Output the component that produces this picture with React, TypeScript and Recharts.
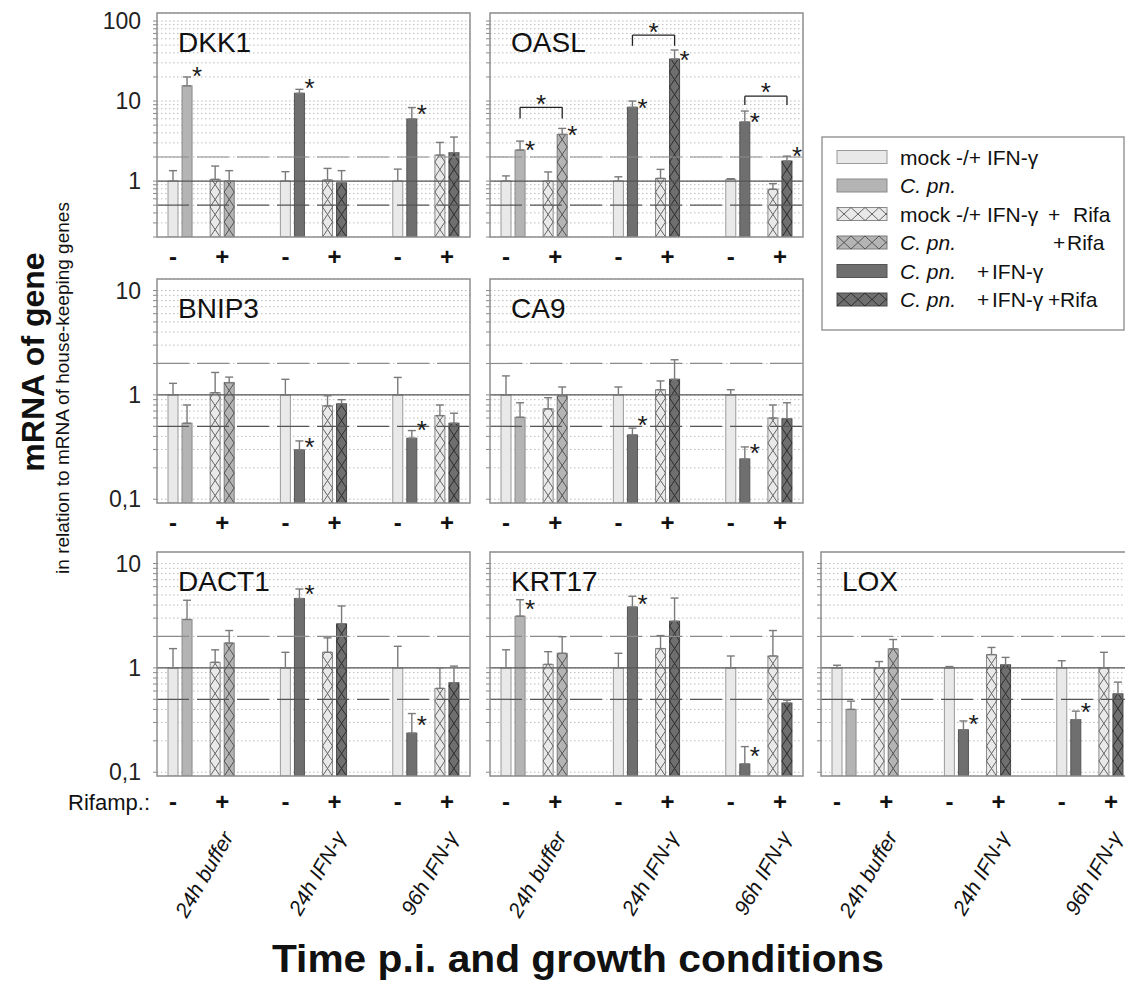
import React from 'react';
import { ComposedChart, Bar, XAxis, YAxis, CartesianGrid, ReferenceLine, ErrorBar, Scatter } from 'recharts';

const FONT = "'Liberation Sans', Arial, Helvetica, sans-serif";

// ---------- categories / labels ----------
const CONDITIONS = ['24h buffer', '24h IFN-γ', '96h IFN-γ'];
const RIFA_MARKS = ['-', '+'];
const BAR_KINDS = [
  ['mock', 'cpn', 'mockRifa', 'cpnRifa'],
  ['mock', 'ifn', 'mockRifa', 'ifnRifa'],
  ['mock', 'ifn', 'mockRifa', 'ifnRifa'],
];
const BAR_OFFSETS = [0, 1, 3, 4];
const LEGEND_KINDS = ['mock', 'cpn', 'mockRifa', 'cpnRifa', 'ifn', 'ifnRifa'];
const LEGEND_TEXTS = [
  [{ t: 'mock -/+ IFN-γ', x: 900 }],
  [{ t: 'C. pn.', x: 900, it: true }],
  [{ t: 'mock -/+ IFN-γ', x: 900 }, { t: '+', x: 1048 }, { t: 'Rifa', x: 1073 }],
  [{ t: 'C. pn.', x: 900, it: true }, { t: '+', x: 1053 }, { t: 'Rifa', x: 1067 }],
  [{ t: 'C. pn.', x: 900, it: true }, { t: '+', x: 977 }, { t: 'IFN-γ', x: 992 }],
  [{ t: 'C. pn.', x: 900, it: true }, { t: '+', x: 977 }, { t: 'IFN-γ', x: 992 }, { t: '+', x: 1048 }, { t: 'Rifa', x: 1060 }],
];

// ---------- tick labels ----------
const TICKS_HIGH = [0.2, 0.3, 0.4, 0.5, 0.6, 0.7, 0.8, 0.9, 1, 2, 3, 4, 5, 6, 7, 8, 9, 10, 20, 30, 40, 50, 60, 70, 80, 90, 100];
const TICKS_LOW = [0.1, 0.2, 0.3, 0.4, 0.5, 0.6, 0.7, 0.8, 0.9, 1, 2, 3, 4, 5, 6, 7, 8, 9, 10];
const MAJOR_TICKS = [0.1, 1, 10, 100];
const MAJOR_LABELS = ['0,1', '1', '10', '100'];

// ---------- data (bar value, error-bar top, star position) ----------
const DKK1_VALUES = [1.0, 15.5, 1.05, 1.0, 1.0, 12.5, 1.03, 0.95, 1.0, 5.96, 2.11, 2.26];
const DKK1_TOPS = [1.35, 20, 1.54, 1.35, 1.31, 14.0, 1.44, 1.35, 1.41, 8.3, 3.04, 3.55];
const DKK1_STARS = [null, 23, null, null, null, 16.5, null, null, null, 7.8, null, null];

const OASL_VALUES = [1.0, 2.44, 1.0, 3.83, 1.0, 8.35, 1.08, 33.5, 1.05, 5.47, 0.79, 1.78];
const OASL_TOPS = [1.16, 3.16, 1.3, 4.55, 1.13, 10, 1.4, 43.4, 1.07, 7.5, 0.93, 2.05];
const OASL_STARS = [null, 2.76, null, 4.25, null, 9.1, null, 37, null, 6.2, null, 2.3];
const OASL_BRACKETS = [
  { group: 0, y: 8.35, leg: 6.07, star: 10.3 },
  { group: 1, y: 66.8, leg: 49, star: 81 },
  { group: 2, y: 11.5, leg: 8.9, star: 14.5 },
];

const BNIP3_VALUES = [1.0, 0.535, 1.05, 1.31, 1.0, 0.297, 0.784, 0.82, 1.0, 0.384, 0.633, 0.535];
const BNIP3_TOPS = [1.29, 0.8, 1.64, 1.48, 1.41, 0.362, 0.98, 0.9, 1.47, 0.455, 0.8, 0.667];
const BNIP3_STARS = [null, null, null, null, null, 0.344, null, null, null, 0.5, null, null];

const CA9_VALUES = [1.0, 0.61, 0.734, 0.98, 1.0, 0.413, 1.12, 1.41, 1.0, 0.243, 0.6, 0.59];
const CA9_TOPS = [1.52, 0.84, 0.94, 1.19, 1.19, 0.48, 1.36, 2.17, 1.12, 0.317, 0.8, 0.84];
const CA9_STARS = [null, null, null, null, null, 0.567, null, null, null, 0.3, null, null];

const DACT1_VALUES = [1.0, 2.91, 1.13, 1.73, 1.0, 4.62, 1.41, 2.64, 1.0, 0.237, 0.636, 0.72];
const DACT1_TOPS = [1.53, 4.45, 1.49, 2.28, 1.41, 5.7, 1.94, 3.92, 1.61, 0.365, 1.0, 1.04];
const DACT1_STARS = [null, null, null, null, null, 5.6, null, null, null, 0.31, null, null];

const KRT17_VALUES = [1.0, 3.13, 1.08, 1.38, 1.0, 3.83, 1.53, 2.8, 1.0, 0.12, 1.3, 0.46];
const KRT17_TOPS = [1.49, 4.5, 1.43, 1.99, 1.38, 4.86, 2.04, 4.67, 1.3, 0.176, 2.28, 0.49];
const KRT17_STARS = [null, 4.0, null, null, null, 4.5, null, null, null, 0.157, null, null];

const LOX_VALUES = [1.0, 0.4, 1.0, 1.52, 1.0, 0.255, 1.34, 1.07, 1.0, 0.319, 1.0, 0.564];
const LOX_TOPS = [1.06, 0.48, 1.15, 1.87, 1.03, 0.31, 1.57, 1.26, 1.17, 0.385, 1.41, 0.73];
const LOX_STARS = [null, null, null, null, null, 0.32, null, null, null, 0.41, null, null];

const GENES = [
  { name: 'DKK1', row: 0, col: 0, values: DKK1_VALUES, tops: DKK1_TOPS, stars: DKK1_STARS, brackets: [] },
  { name: 'OASL', row: 0, col: 1, values: OASL_VALUES, tops: OASL_TOPS, stars: OASL_STARS, brackets: OASL_BRACKETS },
  { name: 'BNIP3', row: 1, col: 0, values: BNIP3_VALUES, tops: BNIP3_TOPS, stars: BNIP3_STARS, brackets: [] },
  { name: 'CA9', row: 1, col: 1, values: CA9_VALUES, tops: CA9_TOPS, stars: CA9_STARS, brackets: [] },
  { name: 'DACT1', row: 2, col: 0, values: DACT1_VALUES, tops: DACT1_TOPS, stars: DACT1_STARS, brackets: [] },
  { name: 'KRT17', row: 2, col: 1, values: KRT17_VALUES, tops: KRT17_TOPS, stars: KRT17_STARS, brackets: [] },
  { name: 'LOX', row: 2, col: 2, values: LOX_VALUES, tops: LOX_TOPS, stars: LOX_STARS, brackets: [] },
];

// ---------- layout ----------
const PLOT_W = 313;
const PLOT_H = 224;
const COL_X = [157, 490, 821];
const ROW_Y = [13, 279, 552];
const ROW_DOMAIN = [[0.2, 126], [0.092, 12.9], [0.092, 12.9]];
const ROW_TICKS = [TICKS_HIGH, TICKS_LOW, TICKS_LOW];
const ROW_MARK_OFFSET = [20, 20, 26];
const ROW_XH = [42, 42, 170];
const MT = 12;
const YW = 60;
const MR = 4;
const N_SLOTS = 21;

const STYLE = {
  mock: { fill: '#e9e9e9', stroke: '#9a9a9a', hatch: null },
  cpn: { fill: '#b4b4b4', stroke: '#8a8a8a', hatch: null },
  ifn: { fill: '#6f6f6f', stroke: '#555555', hatch: null },
  mockRifa: { fill: '#e9e9e9', stroke: '#8a8a8a', hatch: '#666666' },
  cpnRifa: { fill: '#b4b4b4', stroke: '#7a7a7a', hatch: '#555555' },
  ifnRifa: { fill: '#6f6f6f', stroke: '#4a4a4a', hatch: '#2e2e2e' },
};

function zigV(x, yTop, w, yBot, h, startLeft) {
  const pts = [];
  let cy = yBot;
  let left = startLeft;
  pts.push([left ? x : x + w, cy]);
  let guard = 0;
  while (cy > yTop + 0.01 && guard < 400) {
    guard++;
    const ny = cy - h;
    if (ny < yTop) {
      const t = (cy - yTop) / h;
      const px = left ? x + w * t : x + w - w * t;
      pts.push([px, yTop]);
    } else {
      pts.push([left ? x + w : x, ny]);
    }
    cy = ny;
    left = !left;
  }
  return 'M' + pts.map((p) => p[0].toFixed(2) + ',' + p[1].toFixed(2)).join('L');
}

function zigH(x, y, w, hgt, hp, startTop) {
  const pts = [];
  let cx = x;
  let top = startTop;
  pts.push([cx, top ? y : y + hgt]);
  let guard = 0;
  while (cx < x + w - 0.01 && guard < 100) {
    guard++;
    const nx = cx + hp;
    if (nx > x + w) {
      const t = (x + w - cx) / hp;
      const py = top ? y + hgt * t : y + hgt - hgt * t;
      pts.push([x + w, py]);
    } else {
      pts.push([nx, top ? y + hgt : y]);
    }
    cx = nx;
    top = !top;
  }
  return 'M' + pts.map((p) => p[0].toFixed(2) + ',' + p[1].toFixed(2)).join('L');
}

const BarShape = (props) => {
  const { x, y, width, height, payload } = props;
  if (!payload || payload.v == null || !Number.isFinite(y) || !Number.isFinite(height) || height <= 0) return <g />;
  const st = STYLE[payload.kind];
  return (
    <g>
      <rect x={x} y={y} width={width} height={height} fill={st.fill} stroke={st.stroke} strokeWidth={1} />
      {st.hatch && (
        <g fill="none" stroke={st.hatch} strokeWidth={1}>
          <path d={zigV(x, y, width, y + height, 15, true)} />
          <path d={zigV(x, y, width, y + height, 15, false)} />
        </g>
      )}
    </g>
  );
};

const StarShape = (props) => {
  const { cx, cy, payload } = props;
  if (!payload || payload.s == null || !Number.isFinite(cy) || !Number.isFinite(cx)) return <g />;
  return (
    <text x={cx + payload.sdx} y={cy + 13} textAnchor="middle" fontSize={26} fontFamily={FONT} fill="#1a1a1a">
      *
    </text>
  );
};

function buildRows(g) {
  const rows = [];
  for (let i = 0; i < N_SLOTS; i++) rows.push({ slot: i, v: null, e: null, s: null, sdx: 0, kind: null });
  g.values.forEach((v, i) => {
    const grp = Math.floor(i / 4);
    const b = i % 4;
    const r = rows[grp * 8 + BAR_OFFSETS[b]];
    r.v = v;
    r.e = [0, g.tops[i] - v];
    r.kind = BAR_KINDS[grp][b];
    if (g.stars[i] != null) {
      r.s = g.stars[i];
      r.sdx = 10;
    }
  });
  g.brackets.forEach((br) => {
    const r = rows[br.group * 8 + 2];
    r.s = br.star;
    r.sdx = 7;
  });
  return rows;
}

function makeXTick(plotBottom, markOffset, showConditions) {
  return (props) => {
    const { x, payload } = props;
    const slot = Number(payload.value);
    const pos = slot % 8;
    const grp = Math.floor(slot / 8);
    const yMark = plotBottom + markOffset + 8;
    const ax = x + 33;
    const ay = plotBottom + 61;
    return (
      <g>
        {pos === 0 && (
          <text x={x} y={yMark} textAnchor="middle" fontSize={24} fontWeight="bold" fontFamily={FONT} fill="#111">
            {RIFA_MARKS[0]}
          </text>
        )}
        {pos === 3 && (
          <text x={x + 7} y={yMark} textAnchor="middle" fontSize={24} fontWeight="bold" fontFamily={FONT} fill="#111">
            {RIFA_MARKS[1]}
          </text>
        )}
        {showConditions && pos === 2 && (
          <text
            x={ax}
            y={ay}
            textAnchor="end"
            transform={`rotate(-60 ${ax} ${ay})`}
            fontSize={21}
            fontStyle="italic"
            fontFamily={FONT}
            fill="#111"
          >
            {CONDITIONS[grp]}
          </text>
        )}
      </g>
    );
  };
}

function Panel({ gene }) {
  const data = buildRows(gene);
  const row = gene.row;
  const left = COL_X[gene.col];
  const top = ROW_Y[row];
  const showY = gene.col === 0;
  const W = YW + PLOT_W + MR;
  const H = MT + PLOT_H + ROW_XH[row];
  const plotBottom = MT + PLOT_H;
  const bracketLines = [];
  gene.brackets.forEach((br, i) => {
    const s1 = br.group * 8 + BAR_OFFSETS[1];
    const s2 = br.group * 8 + BAR_OFFSETS[3];
    bracketLines.push(
      <ReferenceLine key={'bh' + i} segment={[{ x: s1, y: br.y }, { x: s2, y: br.y }]} stroke="#222" strokeWidth={1.3} />,
      <ReferenceLine key={'bl' + i} segment={[{ x: s1, y: br.y }, { x: s1, y: br.leg }]} stroke="#222" strokeWidth={1.3} />,
      <ReferenceLine key={'br' + i} segment={[{ x: s2, y: br.y }, { x: s2, y: br.leg }]} stroke="#222" strokeWidth={1.3} />
    );
  });
  return (
    <div style={{ position: 'absolute', left: left - YW, top: top - MT }}>
      <ComposedChart width={W} height={H} data={data} margin={{ top: MT, right: MR, bottom: 0, left: 0 }}>
        <CartesianGrid vertical={false} stroke="#bcbcbc" strokeDasharray="1.5 2.5" />
        <XAxis
          dataKey="slot"
          type="category"
          interval={0}
          padding={{ left: 9, right: 9 }}
          axisLine={false}
          tickLine={false}
          height={ROW_XH[row]}
          tick={makeXTick(plotBottom, ROW_MARK_OFFSET[row], row === 2)}
        />
        <YAxis
          type="number"
          scale="log"
          domain={ROW_DOMAIN[row]}
          allowDataOverflow
          ticks={ROW_TICKS[row]}
          interval={0}
          width={YW}
          axisLine={false}
          tickSize={4}
          tickMargin={12}
          tickLine={{ stroke: '#8a8a8a' }}
          tick={{ fontSize: 23, fill: '#222', fontFamily: FONT }}
          tickFormatter={(v) => {
            const k = MAJOR_TICKS.indexOf(v);
            return showY && k >= 0 ? MAJOR_LABELS[k] : '';
          }}
        />
        <ReferenceLine y={2} stroke="#8c8c8c" strokeWidth={1.2} strokeDasharray="32 8" />
        <ReferenceLine y={0.5} stroke="#555" strokeWidth={1.2} strokeDasharray="32 8" />
        <ReferenceLine y={1} stroke="#555" strokeWidth={1.2} />
        <Bar dataKey="v" barSize={10} shape={BarShape} isAnimationActive={false}>
          <ErrorBar dataKey="e" width={4} stroke="#7a7a7a" strokeWidth={1.4} direction="y" />
        </Bar>
        <Scatter dataKey="s" shape={StarShape} isAnimationActive={false} />
        {bracketLines}
      </ComposedChart>
    </div>
  );
}

function LegendBox() {
  const rowsY = [157, 185.5, 214, 242.5, 271, 299.5];
  return (
    <g>
      <rect x={822} y={137} width={302} height={193} fill="#fff" stroke="#999" strokeWidth={1.5} />
      {LEGEND_KINDS.map((k, i) => {
        const st = STYLE[k];
        const cy = rowsY[i];
        const sx = 837;
        const sy = cy - 6.5;
        return (
          <g key={k}>
            <rect x={sx} y={sy} width={50} height={13} fill={st.fill} stroke={st.stroke} strokeWidth={1} />
            {st.hatch && (
              <g fill="none" stroke={st.hatch} strokeWidth={1}>
                <path d={zigH(sx, sy, 50, 13, 14, true)} />
                <path d={zigH(sx, sy, 50, 13, 14, false)} />
              </g>
            )}
            {LEGEND_TEXTS[i].map((p, j) => (
              <text key={j} x={p.x} y={cy + 7.5} fontSize={21} fontFamily={FONT} fontStyle={p.it ? 'italic' : 'normal'} fill="#111">
                {p.t}
              </text>
            ))}
          </g>
        );
      })}
    </g>
  );
}

export default function App() {
  return (
    <div style={{ position: 'absolute', left: 0, top: 0, width: 1125, height: 991, overflow: 'hidden', background: '#fff', fontFamily: FONT }}>
      {GENES.map((g) => (
        <Panel key={g.name} gene={g} />
      ))}
      <svg width={1125} height={991} style={{ position: 'absolute', left: 0, top: 0, pointerEvents: 'none' }}>
        {GENES.map((g) => (
          <g key={g.name}>
            <rect x={COL_X[g.col]} y={ROW_Y[g.row]} width={PLOT_W} height={PLOT_H} fill="none" stroke="#8f8f8f" strokeWidth={1.5} />
            <text x={COL_X[g.col] + 21} y={ROW_Y[g.row] + 39} fontSize={28} fontFamily={FONT} fill="#111">
              {g.name}
            </text>
          </g>
        ))}
        <LegendBox />
        <text x={150} y={810} textAnchor="end" fontSize={22} fontFamily={FONT} fill="#111">
          Rifamp.:
        </text>
        <text x={44} y={362} textAnchor="middle" transform="rotate(-90 44 362)" fontSize={32} fontWeight="bold" fontFamily={FONT} fill="#111">
          mRNA of gene
        </text>
        <text x={69} y={388} textAnchor="middle" transform="rotate(-90 69 388)" fontSize={19} fontFamily={FONT} fill="#111">
          in relation to mRNA of house-keeping genes
        </text>
        <text x={578} y={972} textAnchor="middle" fontSize={38} fontWeight="bold" fontFamily={FONT} fill="#111" textLength={612} lengthAdjust="spacingAndGlyphs">
          Time p.i. and growth conditions
        </text>
      </svg>
    </div>
  );
}
